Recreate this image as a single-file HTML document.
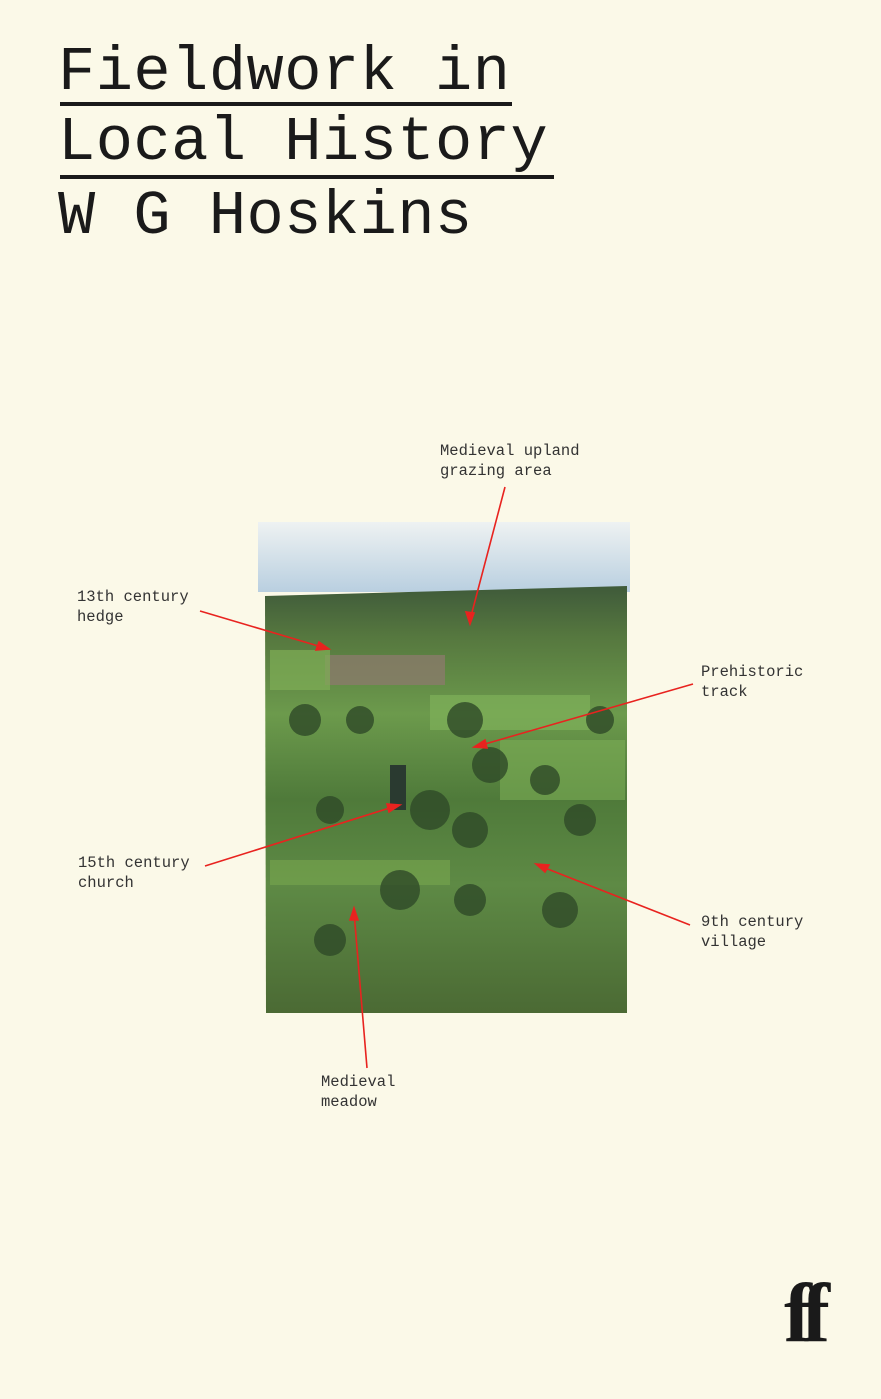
<!DOCTYPE html>
<html><head><meta charset="utf-8"><style>
body{margin:0;width:881px;height:1399px;background:#fbf9e8;position:relative;overflow:hidden;font-family:"Liberation Mono",monospace;color:#222}
.t{position:absolute;left:58px;font-size:62px;line-height:1;color:#1a1a1a;letter-spacing:0.5px;white-space:nowrap}
.u{position:absolute;left:60px;height:4px;background:#1a1a1a}
.l{position:absolute;font-size:15.5px;line-height:20px;color:#333;white-space:pre}
</style></head><body>
<div class="t" style="top:42px">Fieldwork in</div>
<div class="u" style="top:102px;width:452px"></div>
<div class="t" style="top:112px">Local History</div>
<div class="u" style="top:175px;width:494px"></div>
<div class="t" style="top:186px">W G Hoskins</div>

<svg style="position:absolute;left:0;top:0" width="881" height="1399">
<defs>
<linearGradient id="sky" x1="0" y1="0" x2="0" y2="1"><stop offset="0" stop-color="#eef2f2"/><stop offset="1" stop-color="#b9cfe0"/></linearGradient>
<linearGradient id="land" x1="0" y1="0" x2="0" y2="1">
<stop offset="0" stop-color="#3f5a3a"/><stop offset="0.12" stop-color="#56783f"/><stop offset="0.3" stop-color="#6c9a4c"/><stop offset="0.5" stop-color="#4f7a3a"/><stop offset="0.7" stop-color="#5e8a45"/><stop offset="1" stop-color="#4b6a34"/></linearGradient>
</defs>
<rect x="258" y="522" width="372" height="70" fill="url(#sky)"/>
<polygon points="265,596 627,586 627,1013 266,1013" fill="url(#land)"/>
<rect x="325" y="655" width="120" height="30" fill="#8a7a6a" opacity="0.8"/>
<rect x="430" y="695" width="160" height="35" fill="#7fb05a" opacity="0.7"/>
<rect x="270" y="650" width="60" height="40" fill="#7fae55" opacity="0.7"/>
<rect x="500" y="740" width="125" height="60" fill="#7cae55" opacity="0.6"/>
<rect x="270" y="860" width="180" height="25" fill="#78a64f" opacity="0.6"/>
<g fill="#2f4a28" opacity="0.8">
<circle cx="305" cy="720" r="16"/><circle cx="360" cy="720" r="14"/><circle cx="465" cy="720" r="18"/><circle cx="490" cy="765" r="18"/><circle cx="545" cy="780" r="15"/><circle cx="330" cy="810" r="14"/><circle cx="430" cy="810" r="20"/><circle cx="470" cy="830" r="18"/><circle cx="580" cy="820" r="16"/><circle cx="400" cy="890" r="20"/><circle cx="470" cy="900" r="16"/><circle cx="560" cy="910" r="18"/><circle cx="330" cy="940" r="16"/><circle cx="600" cy="720" r="14"/>
</g>
<rect x="390" y="765" width="16" height="45" fill="#2a3a30"/>
<g stroke="#e8231f" stroke-width="1.6" fill="#e8231f">
<line x1="505" y1="487" x2="470" y2="620"/><polygon points="470,624 466,612 474,613"/>
<line x1="200" y1="611" x2="325" y2="648"/><polygon points="329,649 316,650 319,642"/>
<line x1="693" y1="684" x2="478" y2="746"/><polygon points="474,747 485,740 487,748"/>
<line x1="205" y1="866" x2="396" y2="806"/><polygon points="400,805 389,812 387,804"/>
<line x1="690" y1="925" x2="540" y2="866"/><polygon points="536,864 549,865 545,872"/>
<line x1="367" y1="1068" x2="354" y2="912"/><polygon points="354,908 358,920 350,920"/>
</g>
</svg>

<div class="l" style="left:440px;top:441px">Medieval upland
grazing area</div>
<div class="l" style="left:77px;top:587px">13th century
hedge</div>
<div class="l" style="left:701px;top:662px">Prehistoric
track</div>
<div class="l" style="left:78px;top:853px">15th century
church</div>
<div class="l" style="left:701px;top:912px">9th century
village</div>
<div class="l" style="left:321px;top:1072px">Medieval
meadow</div>
<div style="position:absolute;left:784px;top:1272px;font-family:'Liberation Serif',serif;font-weight:bold;font-size:84px;line-height:1;letter-spacing:-10px;color:#1a1a1a">ff</div>
</body></html>
